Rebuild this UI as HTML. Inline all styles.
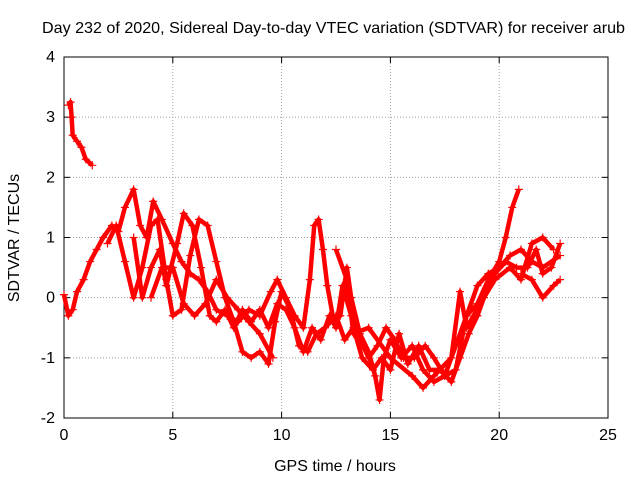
<!DOCTYPE html>
<html><head><meta charset="utf-8"><style>
body{margin:0;background:#fff}
text{font-family:"Liberation Sans",sans-serif;font-size:16px;fill:#000}
</style></head><body>
<svg id="chart" width="640" height="480" viewBox="0 0 640 480" xmlns="http://www.w3.org/2000/svg">
<rect width="640" height="480" fill="#fff"/>
<text x="42" y="33" textLength="583" lengthAdjust="spacingAndGlyphs">Day 232 of 2020, Sidereal Day-to-day VTEC variation (SDTVAR) for receiver arub</text>
<g id="grid"></g>
<g id="axes"></g>
<g id="series"></g>
<text x="335" y="471" text-anchor="middle">GPS time / hours</text>
<text transform="translate(19,238) rotate(-90)" text-anchor="middle">SDTVAR / TECUs</text>
</svg>
<script>
const xTicks=[0,5,10,15,20,25];
const yTicks=[-2,-1,0,1,2,3,4];
const trace1=[[0.2,3.2],[0.3,3.25],[0.35,3.0],[0.4,2.7],[0.6,2.6],[0.8,2.5],[1.0,2.3],[1.3,2.2]];
const trace2=[[0,0.05],[0.2,-0.3],[0.4,-0.2],[0.6,0.1],[0.9,0.3],[1.2,0.6],[1.5,0.8],[1.8,1.0],[2.2,1.2],[2.5,1.1],[2.8,1.5],[3.2,1.8],[3.5,1.2],[3.8,1.0],[4.1,1.6],[4.5,1.3],[5.0,0.9],[5.4,0.6],[5.8,0.4],[6.2,0.3],[6.6,0.1],[7.0,-0.2],[7.5,-0.3],[8.0,-0.4],[8.5,-0.2],[9.0,-0.3],[9.5,0.1],[9.8,0.3],[10.2,0.0],[10.6,-0.3],[11.0,-0.5],[11.3,0.3],[11.5,1.2],[11.7,1.3],[11.9,0.8],[12.1,0.2],[12.4,-0.4],[12.7,-0.3],[13.0,0.5],[13.2,0.0],[13.6,-0.6],[14.0,-0.9],[14.3,-1.3],[14.5,-1.7],[14.7,-1.0],[15.0,-0.7],[15.5,-1.0],[16.0,-0.8],[16.5,-1.2],[17.0,-1.4],[17.5,-1.3],[18.0,-0.8],[18.5,-0.3],[19.0,0.2],[19.5,0.4],[20.0,0.5],[20.5,0.7],[21.0,0.8],[21.5,0.6],[22.0,0.5],[22.8,0.7]];
const trace3=[[2.0,0.9],[2.4,1.2],[2.8,0.6],[3.2,0.0],[3.6,0.5],[4.0,1.2],[4.3,1.3],[4.7,0.3],[5.0,-0.3],[5.4,-0.2],[5.8,0.7],[6.2,1.3],[6.6,1.2],[7.0,0.6],[7.4,0.0],[7.8,-0.4],[8.2,-0.9],[8.6,-1.0],[9.0,-0.9],[9.4,-1.1],[9.7,-0.4],[10.0,0.1],[10.4,-0.2],[10.8,-0.8],[11.2,-0.9],[11.6,-0.6],[12.0,-0.5],[12.5,-0.3],[12.9,-0.7],[13.3,-0.5],[13.7,-1.0],[14.2,-1.2],[14.6,-1.0],[15.0,-1.2],[15.4,-0.6],[15.8,-1.1],[16.3,-0.8],[16.8,-1.2],[17.3,-1.2],[17.8,-1.4],[18.2,-1.0],[18.6,-0.6],[19.0,-0.3],[19.4,0.1],[19.8,0.4],[20.3,0.6],[20.8,0.5],[21.3,0.5],[21.7,0.8],[22.0,0.4],[22.4,0.5],[22.8,0.9]];
const trace4=[[3.2,1.0],[3.6,0.0],[4.0,0.5],[4.4,0.8],[4.7,0.2],[5.2,0.9],[5.5,1.4],[5.9,1.2],[6.3,0.5],[6.7,-0.3],[7.0,-0.4],[7.4,-0.2],[7.8,-0.5],[8.2,-0.2],[8.6,-0.4],[9.0,-0.2],[9.4,-0.5],[9.8,-0.1],[10.2,-0.2],[10.6,-0.5],[11.0,-0.9],[11.4,-0.5],[11.8,-0.7],[12.2,-0.3],[12.5,-0.5],[12.8,0.2],[13.2,-0.3],[13.6,-0.7],[14.0,-1.0],[14.4,-0.8],[14.8,-0.5],[15.2,-0.7],[15.6,-1.0],[16.1,-1.0],[16.6,-0.8],[17.0,-1.0],[17.5,-1.3],[18.0,-1.2],[18.5,-0.3],[19.0,-0.1],[19.5,0.3],[20.0,0.6],[20.3,1.0],[20.6,1.5],[20.9,1.8]];
const trace5=[[4.0,0.0],[4.5,0.5],[5.0,0.5],[5.5,-0.1],[6.0,-0.3],[6.5,-0.1],[7.0,0.3],[7.5,0.0],[8.0,-0.2],[8.5,-0.4],[9.0,-0.6],[9.6,-1.0]];
const trace6=[[12.5,0.8],[13.0,0.3],[13.3,-0.6],[14.0,-0.5],[15.0,-1.0],[16.0,-1.3],[16.5,-1.5],[17.0,-1.3],[17.8,-1.0],[18.2,0.1],[18.5,-0.5],[19.3,0.0],[19.8,0.3],[20.5,0.5],[21.0,0.3],[21.5,0.9],[22.0,1.0],[22.5,0.8]];
const trace7=[[21.0,0.4],[21.5,0.3],[22.0,0.0],[22.5,0.2],[22.8,0.3]];
const traces=[trace1,trace2,trace3,trace4,trace5,trace6,trace7];

const NS="http://www.w3.org/2000/svg";
const L=64,R=608,T=57,B=418;
const xs=v=>L+(v-0)/25*(R-L);
const ys=v=>B-(v+2)/6*(B-T);
function mk(tag,attrs,parent){const e=document.createElementNS(NS,tag);for(const k in attrs)e.setAttribute(k,attrs[k]);parent.appendChild(e);return e;}
const grid=document.getElementById('grid'),axes=document.getElementById('axes'),series=document.getElementById('series');
xTicks.forEach(t=>{
  const x=xs(t);
  if(t>0&&t<25){const g=mk('line',{x1:x,x2:x,y1:T,y2:B,stroke:'#a0a0a0','stroke-dasharray':'1,2'},grid);
  
  }
  mk('line',{x1:x,x2:x,y1:B,y2:B-6,stroke:'#000'},axes);
  mk('line',{x1:x,x2:x,y1:T,y2:T+6,stroke:'#000'},axes);
  const lb=mk('text',{x:x,y:B+22,'text-anchor':'middle'},axes);lb.textContent=t;
  
  
});
yTicks.forEach(t=>{
  const y=ys(t);
  if(t>-2&&t<4){const g=mk('line',{x1:L,x2:R,y1:y,y2:y,stroke:'#a0a0a0','stroke-dasharray':'1,2'},grid);
  
  }
  mk('line',{x1:L,x2:L+6,y1:y,y2:y,stroke:'#000'},axes);
  mk('line',{x1:R,x2:R-6,y1:y,y2:y,stroke:'#000'},axes);
  const lb=mk('text',{x:L-9,y:y+5,'text-anchor':'end'},axes);lb.textContent=t;
  
  
});
const fr=mk('rect',{x:L,y:T,width:R-L,height:B-T,fill:'none',stroke:'#000'},axes);


traces.forEach((tr,i)=>{
  const g=mk('g',{},series);
  
  
  mk('polyline',{points:tr.map(p=>xs(p[0])+','+ys(p[1])).join(' '),fill:'none',stroke:'#ff0000','stroke-width':4.5,'stroke-linejoin':'round'},g);
  tr.forEach(p=>{const x=xs(p[0]),y=ys(p[1]);
    mk('path',{d:`M${x-4},${y}H${x+4}M${x},${y-4}V${y+4}`,stroke:'#ff0000','stroke-width':1.2},g);});
});
</script>
</body></html>
